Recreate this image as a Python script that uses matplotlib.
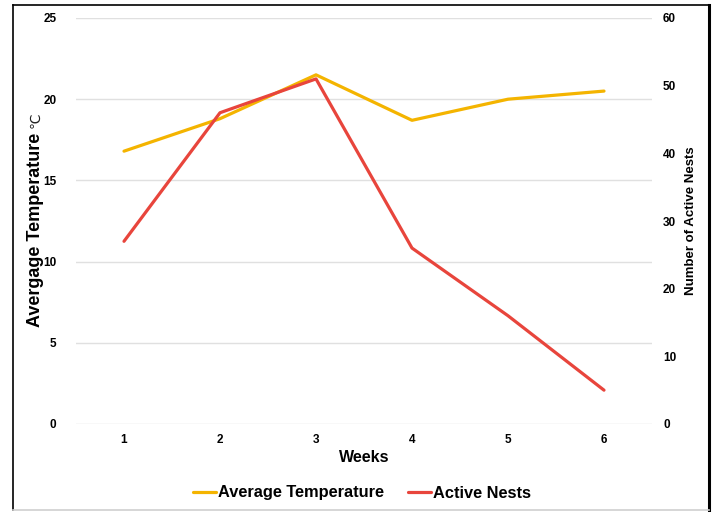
import matplotlib
matplotlib.use("Agg")
import matplotlib.pyplot as plt
from matplotlib.lines import Line2D

# data
weeks = [1, 2, 3, 4, 5, 6]
avg_temp = [16.8, 18.8, 21.5, 18.7, 20.0, 20.5]
active_nests = [27, 46, 51, 26, 16, 5]

temp_ticks = [0, 5, 10, 15, 20, 25]
nest_ticks = [0, 10, 20, 30, 40, 50, 60]

YELLOW = "#F4B400"
RED = "#E8453C"
GRID = "#E0E0E0"

plt.rcParams['font.family'] = ['Liberation Sans', 'DejaVu Sans']

fig = plt.figure(figsize=(7.14, 5.12), dpi=100)
ax = fig.add_axes([76 / 714, 1 - 424 / 512, 576 / 714, 406 / 512])
ax2 = ax.twinx()

l1, = ax.plot(weeks, avg_temp, color=YELLOW, lw=2.3, solid_capstyle='round',
              solid_joinstyle='round', label="Average Temperature", zorder=3)
l2, = ax2.plot(weeks, active_nests, color=RED, lw=2.3, solid_capstyle='round',
               solid_joinstyle='round', label="Active Nests", zorder=3)

ax.set_xlim(0.5, 6.5)
ax.set_ylim(0, 25)
ax2.set_ylim(0, 60)
ax.set_xticks(weeks)
ax.set_yticks(temp_ticks)
ax2.set_yticks(nest_ticks)

ax.grid(axis='y', color=GRID, lw=1)
ax.set_axisbelow(True)
for a in (ax, ax2):
    for s in a.spines.values():
        s.set_visible(False)
    a.tick_params(length=0, labelsize=8.5)
    for t in a.get_xticklabels() + a.get_yticklabels():
        t.set_fontweight('bold')
ax.tick_params(axis='y', pad=14)
ax.tick_params(axis='x', pad=7)
ax2.tick_params(axis='y', pad=8)

ax.set_xlabel("Weeks", fontsize=11.5, fontweight='bold', labelpad=3)
ax.set_ylabel("Avergage Temperature", fontsize=13, fontweight='bold')
ax.yaxis.set_label_coords(-0.056, 0.478)
fig.text(35.5 / 714, 1 - 120 / 512, "℃", rotation=90, ha='center', va='center',
         fontsize=10, family='DejaVu Sans', color='#222222')
ax2.set_ylabel("Number of Active Nests", fontsize=9.5, fontweight='bold')
ax2.yaxis.set_label_coords(1.058, 0.5)

fig.legend(handles=[l1, l2], loc='center', bbox_to_anchor=(362 / 714, 1 - 493 / 512),
           ncol=2, frameon=False, prop={'weight': 'bold', 'size': 11.8},
           handlelength=1.4, handletextpad=0.1, columnspacing=1.5)

# thin frame round the whole picture
fig.add_artist(Line2D([13 / 714, 13 / 714], [1 - 5 / 512, 1 - 510 / 512], color='black', lw=1.2))
fig.add_artist(Line2D([13 / 714, 709 / 714], [1 - 5 / 512, 1 - 5 / 512], color='black', lw=1.2))
fig.add_artist(Line2D([709 / 714, 709 / 714], [1 - 5 / 512, 1 - 510 / 512], color='black', lw=2.2))
fig.add_artist(Line2D([13 / 714, 709 / 714], [1 - 510 / 512, 1 - 510 / 512], color='#D0D0D0', lw=1.2))

fig.savefig("out.png", dpi=100)
